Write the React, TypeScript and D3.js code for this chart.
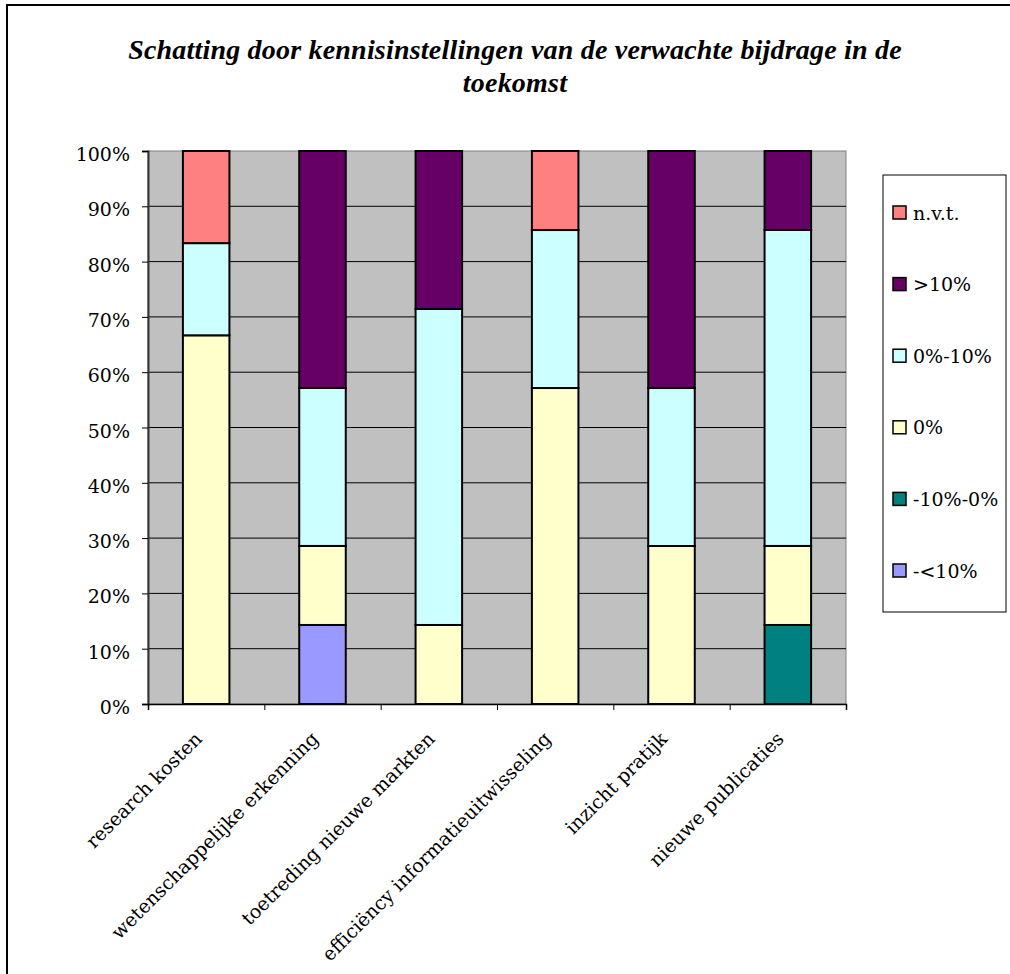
import React, { useRef, useEffect } from 'react';
import * as d3 from 'd3';

const categories = [
  'research kosten',
  'wetenschappelijke erkenning',
  'toetreding nieuwe markten',
  'efficiëncy informatieuitwisseling',
  'inzicht pratijk',
  'nieuwe publicaties',
];

// stacked from bottom to top
const seriesKeys = ['-<10%', '-10%-0%', '0%', '0%-10%', '>10%', 'n.v.t.'];
const seriesColors = ['#9999FF', '#008080', '#FFFFCC', '#CCFFFF', '#660066', '#FF8080'];

const lessThanMin10 = [0, 14.29, 0, 0, 0, 0];
const min10to0 = [0, 0, 0, 0, 0, 14.29];
const zeroPct = [66.67, 14.29, 14.29, 57.14, 28.57, 14.29];
const zeroTo10 = [16.67, 28.57, 57.14, 28.57, 28.57, 57.14];
const moreThan10 = [0, 42.86, 28.57, 0, 42.86, 14.29];
const notApplicable = [16.66, 0, 0, 14.29, 0, 0];

const yTicks = [0, 10, 20, 30, 40, 50, 60, 70, 80, 90, 100];

const titleLines = [
  'Schatting door kennisinstellingen van de verwachte bijdrage in de',
  'toekomst',
];

const Chart = () => {
  const ref = useRef(null);

  useEffect(() => {
    const svg = d3.select(ref.current);
    svg.selectAll('*').remove();

    const W = 1010;
    const H = 974;
    const plot = { left: 148, right: 846, top: 151, bottom: 704 };
    const font = '"DejaVu Serif", serif';

    svg.attr('width', W).attr('height', H);

    // outer chart frame (runs off right and bottom)
    svg.append('rect')
      .attr('x', 7).attr('y', 5)
      .attr('width', W + 20).attr('height', H + 20)
      .attr('fill', 'white')
      .attr('stroke', 'black')
      .attr('stroke-width', 2);

    // title
    svg.append('g')
      .selectAll('text')
      .data(titleLines)
      .join('text')
      .attr('x', 515)
      .attr('y', (d, i) => 59 + i * 33)
      .attr('text-anchor', 'middle')
      .attr('font-family', '"Liberation Serif", serif')
      .attr('font-weight', 'bold')
      .attr('font-style', 'italic')
      .attr('font-size', 28)
      .attr('letter-spacing', 0.2)
      .text(d => d);

    const table = categories.map((c, i) => ({
      category: c,
      '-<10%': lessThanMin10[i],
      '-10%-0%': min10to0[i],
      '0%': zeroPct[i],
      '0%-10%': zeroTo10[i],
      '>10%': moreThan10[i],
      'n.v.t.': notApplicable[i],
    }));

    const x = d3.scaleBand()
      .domain(categories)
      .range([plot.left, plot.right])
      .paddingInner(0.6)
      .paddingOuter(0.3);

    const xEdges = d3.scaleLinear()
      .domain([0, categories.length])
      .range([plot.left, plot.right]);

    const y = d3.scaleLinear()
      .domain([0, 100])
      .range([plot.bottom, plot.top]);

    const color = d3.scaleOrdinal().domain(seriesKeys).range(seriesColors);

    // plot area
    svg.append('rect')
      .attr('x', plot.left).attr('y', plot.top)
      .attr('width', plot.right - plot.left)
      .attr('height', plot.bottom - plot.top)
      .attr('fill', '#C0C0C0')
      .attr('stroke', '#808080')
      .attr('stroke-width', 1);

    // gridlines
    svg.append('g')
      .selectAll('line')
      .data(yTicks.filter(t => t > 0 && t < 100))
      .join('line')
      .attr('x1', plot.left).attr('x2', plot.right)
      .attr('y1', d => y(d)).attr('y2', d => y(d))
      .attr('stroke', 'black')
      .attr('stroke-width', 1);

    // stacked bars
    const stacked = d3.stack().keys(seriesKeys)(table);

    svg.append('g')
      .selectAll('g')
      .data(stacked)
      .join('g')
      .attr('fill', d => color(d.key))
      .selectAll('rect')
      .data(d => d.filter(s => s[1] - s[0] > 0))
      .join('rect')
      .attr('x', d => x(d.data.category))
      .attr('width', x.bandwidth())
      .attr('y', d => y(Math.min(d[1], 100)))
      .attr('height', d => y(d[0]) - y(Math.min(d[1], 100)))
      .attr('stroke', 'black')
      .attr('stroke-width', 2);

    // y axis
    svg.append('g')
      .attr('transform', `translate(${plot.left},0)`)
      .call(d3.axisLeft(y).tickValues(yTicks).tickSize(6).tickPadding(12).tickFormat(d => d + '%'))
      .call(g => g.select('.domain').attr('stroke', '#333').attr('stroke-width', 2))
      .call(g => g.selectAll('.tick line').attr('stroke', 'black'))
      .call(g => g.selectAll('.tick text')
        .attr('font-family', font)
        .attr('font-size', 19)
        .attr('fill', 'black')
        .attr('dy', '0.5em'));

    // x axis (ticks between categories)
    svg.append('g')
      .attr('transform', `translate(0,${plot.bottom})`)
      .call(d3.axisBottom(xEdges).ticks(categories.length).tickSize(6).tickFormat(() => ''))
      .call(g => g.select('.domain').attr('stroke', 'black').attr('stroke-width', 1.5))
      .call(g => g.selectAll('.tick line').attr('stroke', 'black'));

    // rotated category labels
    svg.append('g')
      .selectAll('text')
      .data(categories)
      .join('text')
      .attr('transform', d => `translate(${x(d) + x.bandwidth() / 2 - 3},${plot.bottom + 36}) rotate(-45)`)
      .attr('text-anchor', 'end')
      .attr('font-family', font)
      .attr('font-size', 19)
      .text(d => d);

    // legend
    const legend = svg.append('g');
    legend.append('rect')
      .attr('x', 883).attr('y', 175)
      .attr('width', 123).attr('height', 437)
      .attr('fill', 'white')
      .attr('stroke', 'black')
      .attr('stroke-width', 1);

    const legendKeys = seriesKeys.slice().reverse();
    const item = legend.selectAll('g.item')
      .data(legendKeys)
      .join('g')
      .attr('class', 'item')
      .attr('transform', (d, i) => `translate(893,${212.5 + i * 71.6})`);

    item.append('rect')
      .attr('x', 0).attr('y', -6.5)
      .attr('width', 13).attr('height', 13)
      .attr('fill', d => color(d))
      .attr('stroke', 'black')
      .attr('stroke-width', 1.5);

    item.append('text')
      .attr('x', 20).attr('y', 7)
      .attr('font-family', font)
      .attr('font-size', 19)
      .text(d => d);
  }, []);

  return <svg ref={ref} style={{ position: 'absolute', left: 0, top: 0, display: 'block' }} />;
};

export default function App() {
  return <Chart />;
}
